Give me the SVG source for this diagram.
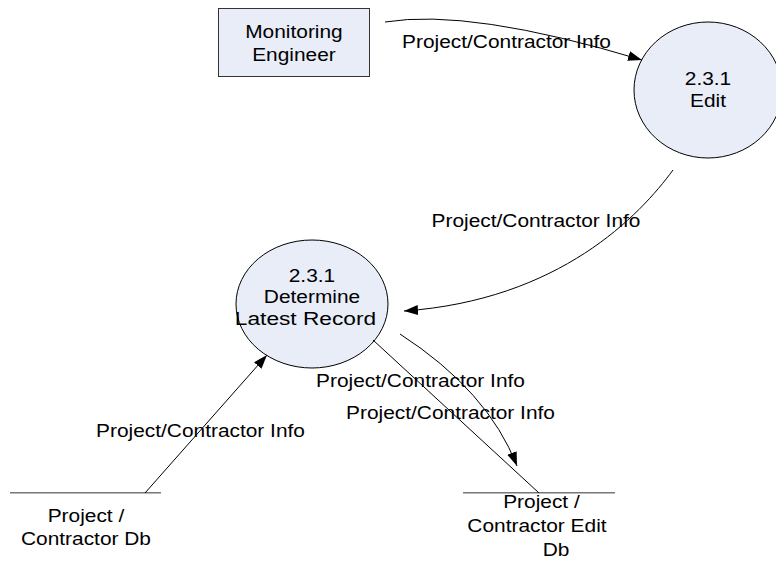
<svg xmlns="http://www.w3.org/2000/svg" width="776" height="561" viewBox="0 0 776 561">
  <style>
    text { font-family: "Liberation Sans", Arial, sans-serif; font-size: 18.5px; fill: #000; text-anchor: middle;
           transform-box: fill-box; transform-origin: center; transform: scaleX(1.13); }
    .proc { fill: #E8EDF8; stroke: #000; stroke-width: 1; }
    .ext { fill: #E8EDF8; stroke: #333; stroke-width: 1; }
    .store { stroke: #777; stroke-width: 1.6; fill: none; }
    .flow { fill: none; stroke: #000; stroke-width: 1; }
  </style>
  <defs>
    <marker id="arrow" markerUnits="userSpaceOnUse" markerWidth="16" markerHeight="12" refX="14" refY="5" orient="auto">
      <path d="M0,0 L14,5 L0,10 Z" fill="#000"/>
    </marker>
  </defs>
  <rect width="776" height="561" fill="#fff"/>

  <!-- external entity -->
  <g id="monitoring-engineer">
    <rect class="ext" x="218.5" y="8.5" width="151" height="68"/>
    <text x="294" y="38.5">Monitoring</text>
    <text x="294" y="61.5">Engineer</text>
  </g>

  <!-- processes -->
  <g id="edit">
    <ellipse class="proc" cx="708" cy="90" rx="74" ry="68"/>
    <text x="708" y="85">2.3.1</text>
    <text x="708" y="107.5">Edit</text>
  </g>
  <g id="determine">
    <ellipse class="proc" cx="312" cy="304" rx="76" ry="64"/>
    <text x="312" y="282">2.3.1</text>
    <text x="312" y="303.5">Determine</text>
    <text x="305.5" y="325" textLength="125" lengthAdjust="spacingAndGlyphs">Latest Record</text>
  </g>

  <!-- data stores -->
  <g id="contractor-db">
    <line class="store" x1="10" y1="492.7" x2="161" y2="492.7"/>
    <text x="86" y="522">Project /</text>
    <text x="86" y="545.5">Contractor Db</text>
  </g>
  <g id="contractor-edit-db">
    <line class="store" x1="463" y1="492.7" x2="615" y2="492.7"/>
    <text x="541.5" y="508.5">Project /</text>
    <text x="537" y="532.5">Contractor Edit</text>
    <text x="556" y="556.5">Db</text>
  </g>

  <!-- data flows -->
  <g id="connectors">
    <path class="flow" d="M385,22 Q470,8 642,60" marker-end="url(#arrow)"/>
    <path class="flow" d="M673,170 C640,215 560,300 404,311" marker-end="url(#arrow)"/>
    <path class="flow" d="M145,493 L267,355" marker-end="url(#arrow)"/>
    <path class="flow" d="M373,340 L539,493"/>
    <path class="flow" d="M400,334 Q488,391 517,466" marker-end="url(#arrow)"/>

    <text x="506.5" y="48">Project/Contractor Info</text>
    <text x="536" y="227">Project/Contractor Info</text>
    <text x="200.5" y="437">Project/Contractor Info</text>
    <text x="420.5" y="387.5">Project/Contractor Info</text>
    <text x="450.5" y="419">Project/Contractor Info</text>
  </g>
</svg>
